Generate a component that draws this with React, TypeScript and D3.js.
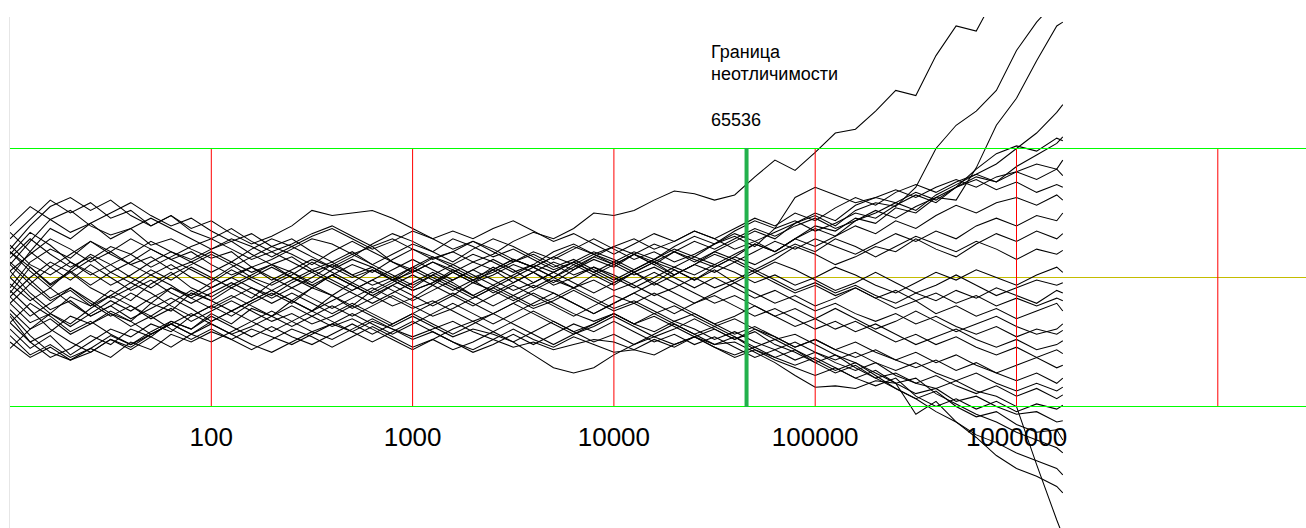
import React from 'react';
import * as d3 from 'd3';

const width = 1306;
const height = 528;

// where each walk is sampled, as powers of ten (n = 10^e)
const sampleExp = [
  1.0, 1.1, 1.2, 1.3, 1.4, 1.5, 1.6, 1.7, 1.8, 1.9,
  2.0, 2.1, 2.2, 2.3, 2.4, 2.5, 2.6, 2.7, 2.8, 2.9,
  3.0, 3.1, 3.2, 3.3, 3.4, 3.5, 3.6, 3.7, 3.8, 3.9,
  4.0, 4.1, 4.2, 4.3, 4.4, 4.5, 4.6, 4.7, 4.8, 4.9,
  5.0, 5.1, 5.2, 5.3, 5.4, 5.5, 5.6, 5.7, 5.8, 5.9,
  6.0, 6.1, 6.2, 6.23,
];

const tickValues = [100, 1000, 10000, 100000, 1000000];
const gridValues = [100, 1000, 10000, 100000, 1000000, 10000000];
const boundaryLines = ['Граница', 'неотличимости'];
const boundaryNumber = '65536';
const boundaryAt = 45600; // where the thick marker sits on the log axis

// normalised deviation of each run, +-100 = the green limits
const w01 = [10, 28, 45, 52, 40, 33, 38, 25, 30, 22, 15, 20, 8, 14, 22, 30, 26, 18, 24, 12, 6, 15, 20, 12, 18, 28, 35, 30, 38, 50, 48, 52, 60, 67, 65, 60, 64, 78, 91, 83, 97, 112, 115, 129, 145, 141, 172, 195, 191, 220, 235, 250, 262, 270];
const w02 = [-20, -35, -28, -15, -22, -10, -18, -5, 4, -8, -15, -6, 2, 10, 4, -4, 6, 14, 8, 0, -8, 2, 10, 18, 12, 4, 10, 20, 26, 18, 24, 30, 22, 28, 36, 30, 22, 28, 35, 42, 48, 40, 52, 58, 55, 70, 100, 118, 129, 145, 176, 198, 215, 225];
const w03 = [5, -12, -25, -18, -30, -22, -12, -20, -8, -14, -4, 6, -2, -10, -18, -8, 2, -6, -14, -22, -16, -6, 4, -4, 6, 14, 8, 16, 10, 2, 10, 18, 12, 20, 28, 22, 30, 38, 32, 40, 46, 38, 44, 52, 46, 55, 62, 60, 85, 118, 139, 168, 195, 198];
const w04 = [-8, 12, 22, 15, 28, 18, 10, 16, 6, 12, 20, 12, 4, 10, 0, -8, 2, 10, 4, 14, 22, 16, 8, 0, 6, -4, 4, 12, 6, 16, 24, 18, 10, 20, 14, 8, 16, 26, 20, 30, 38, 32, 44, 50, 58, 52, 64, 72, 80, 88, 100, 112, 128, 134];
const w05 = [15, 30, 18, 8, 16, 4, 12, 22, 14, 6, -2, 8, 16, 24, 18, 10, 20, 28, 20, 12, 4, 12, 6, -2, 4, 12, 20, 14, 22, 30, 22, 14, 20, 12, 18, 26, 32, 24, 38, 44, 36, 42, 50, 46, 56, 64, 58, 70, 78, 74, 86, 95, 104, 109];
const w06 = [-25, -40, -32, -44, -36, -28, -34, -20, -26, -12, -18, -8, -16, -4, 4, -6, -14, -4, 6, -2, 8, 16, 10, 2, -6, 2, 10, 4, 12, 20, 14, 6, 14, 22, 16, 26, 34, 28, 20, 30, 40, 36, 46, 42, 54, 50, 62, 70, 84, 96, 102, 98, 108, 106];
const w07 = [30, 45, 60, 50, 58, 46, 52, 40, 48, 36, 30, 38, 28, 20, 26, 34, 40, 32, 24, 30, 22, 14, 20, 28, 22, 14, 8, 16, 24, 18, 10, 18, 26, 20, 12, 20, 28, 36, 30, 42, 50, 44, 56, 62, 58, 66, 60, 70, 76, 68, 74, 66, 72, 70];
const w08 = [-12, 8, -6, 4, 14, 24, 18, 28, 20, 12, 4, 12, 22, 30, 24, 16, 8, 16, 26, 34, 28, 20, 12, 22, 30, 24, 16, 8, 14, 6, -2, 6, 14, 8, 16, 10, 18, 26, 20, 30, 24, 32, 40, 34, 44, 38, 48, 56, 50, 58, 62, 56, 64, 60];
const w09 = [20, 5, -8, 6, 18, 10, 0, -8, 2, 10, 18, 10, 0, -6, 2, 12, 4, -4, -12, -4, 6, -2, -10, -2, 8, 0, -8, 0, 10, 18, 12, 4, 12, 2, 10, 18, 12, 20, 28, 22, 30, 24, 18, 26, 34, 28, 36, 30, 40, 46, 40, 48, 44, 50];
const w10 = [-30, -50, -62, -55, -45, -52, -40, -46, -34, -40, -28, -36, -24, -30, -18, -26, -14, -22, -10, -2, -10, -4, 6, -2, -12, -4, 4, -4, 6, 14, 8, 18, 10, 2, 10, 20, 14, 6, 14, 24, 18, 10, 16, 24, 20, 30, 22, 16, 26, 34, 28, 36, 30, 34];
const w11 = [0, 20, 38, 30, 42, 50, 58, 48, 40, 46, 36, 28, 34, 24, 30, 20, 12, 20, 10, 18, 26, 20, 30, 24, 16, 22, 14, 6, 12, 4, 12, 20, 14, 24, 32, 26, 36, 44, 38, 62, 70, 64, 58, 62, 68, 62, 70, 76, 70, 78, 82, 88, 84, 91];
const w12 = [-40, -55, -45, -60, -50, -40, -46, -36, -42, -30, -22, -30, -20, -12, -20, -8, -14, -24, -16, -6, -14, -22, -14, -4, -10, -18, -10, -2, -8, 2, -6, 4, -4, 6, -2, 8, 16, 10, 18, 26, 20, 30, 24, 16, 24, 32, 26, 20, 28, 22, 14, 22, 18, 21];
const w13 = [25, 10, 2, 12, 4, -6, 2, 12, 20, 14, 22, 30, 24, 16, 24, 32, 38, 30, 22, 28, 36, 30, 22, 28, 20, 12, 18, 10, 2, 8, 0, -8, 0, 8, 2, 10, 4, -4, 2, -6, 0, 8, 2, -6, -12, -4, 4, -2, 6, 0, -6, 2, 8, 4];
const w14 = [-5, -18, -8, -20, -30, -22, -32, -24, -16, -24, -34, -26, -18, -10, -18, -26, -18, -10, -2, -10, -18, -10, -2, 6, -2, -10, -4, 4, -4, -12, -4, 4, 12, 6, -2, 6, -4, 4, 12, 6, -2, -10, -4, 4, -4, -12, -6, 2, -6, -14, -8, -2, -6, -4];
const w15 = [40, 55, 45, 35, 42, 30, 38, 46, 38, 30, 22, 28, 18, 10, 16, 6, 12, 2, 8, -2, 4, 12, 4, -4, 2, 10, 4, -6, 0, 8, 2, -6, -14, -8, 0, -8, -2, 6, -2, -10, -4, -12, -6, -14, -20, -12, -18, -10, -16, -8, -14, -20, -10, -12];
const w16 = [-15, 0, 12, 4, -8, -16, -8, 2, -6, -16, -24, -16, -8, -14, -4, 4, -4, -12, -20, -12, -4, 4, -4, -14, -22, -14, -6, -12, -20, -28, -20, -12, -20, -28, -20, -12, -4, -12, -20, -14, -22, -16, -8, -16, -24, -18, -28, -22, -30, -24, -32, -26, -20, -26];
const w17 = [10, -5, -18, -10, -22, -14, -4, -12, -22, -30, -22, -14, -22, -30, -38, -30, -22, -30, -22, -14, -22, -30, -24, -16, -8, -16, -24, -18, -10, -18, -26, -20, -12, -20, -28, -36, -30, -22, -30, -38, -32, -24, -32, -40, -34, -26, -34, -42, -36, -30, -38, -44, -40, -36];
const w18 = [35, 20, 8, 18, 28, 20, 30, 22, 14, 20, 10, 2, 8, -2, 6, 14, 8, 0, 6, -2, -10, -4, 4, 12, 6, 14, 8, 0, 8, 16, 10, 2, 8, 0, -8, 0, -8, -16, -10, -18, -26, -20, -28, -34, -28, -36, -30, -38, -44, -38, -46, -40, -44, -41];
const w19 = [-35, -20, -30, -42, -34, -44, -52, -44, -36, -44, -50, -42, -34, -26, -34, -42, -36, -28, -36, -44, -36, -28, -20, -28, -36, -28, -20, -12, -20, -28, -20, -12, -4, -12, -20, -14, -22, -30, -24, -32, -40, -34, -42, -36, -44, -52, -46, -40, -48, -54, -48, -56, -52, -49];
const w20 = [18, 35, 25, 12, 2, 10, 18, 8, 16, 24, 30, 22, 14, 20, 12, 4, 10, 2, -6, 0, 8, 0, -8, -16, -8, 0, 8, 0, -8, -2, -10, -4, 4, -4, -12, -20, -14, -22, -30, -24, -32, -40, -34, -42, -50, -44, -52, -46, -54, -60, -54, -62, -56, -59];
const w21 = [-45, -60, -52, -62, -55, -45, -52, -42, -34, -40, -30, -38, -46, -38, -46, -52, -44, -36, -44, -36, -28, -36, -44, -36, -28, -36, -44, -52, -44, -36, -28, -36, -30, -38, -46, -40, -48, -40, -46, -54, -48, -56, -50, -58, -64, -58, -66, -60, -68, -74, -68, -62, -70, -68];
const w22 = [0, -15, -28, -38, -28, -18, -26, -16, -8, -16, -8, 0, 8, 0, -8, 0, 10, 18, 10, 2, -6, 2, -6, -14, -6, -14, -22, -16, -8, -16, -24, -18, -26, -34, -28, -36, -44, -38, -46, -54, -48, -56, -62, -56, -64, -70, -64, -72, -66, -74, -80, -74, -82, -78];
const w23 = [-20, -5, 8, -2, 10, 0, -10, -2, -12, -20, -12, -4, -12, -20, -12, -20, -28, -20, -28, -36, -28, -20, -12, -20, -28, -20, -12, -20, -28, -34, -28, -36, -42, -34, -40, -48, -42, -50, -56, -50, -58, -64, -58, -66, -72, -66, -74, -80, -74, -82, -88, -82, -88, -85];
const w24 = [-10, -25, -40, -50, -58, -48, -56, -46, -54, -44, -36, -44, -52, -58, -50, -42, -48, -40, -32, -40, -48, -42, -50, -58, -52, -44, -52, -44, -36, -42, -34, -42, -50, -44, -52, -46, -54, -62, -56, -64, -58, -66, -72, -66, -76, -82, -76, -84, -90, -84, -92, -86, -94, -91];
const w25 = [-28, -45, -58, -64, -55, -62, -50, -56, -44, -50, -42, -48, -40, -46, -52, -44, -36, -42, -34, -40, -46, -40, -34, -42, -48, -54, -50, -56, -52, -48, -50, -56, -48, -54, -46, -54, -62, -56, -64, -70, -76, -70, -78, -84, -78, -92, -100, -94, -102, -96, -104, -98, -102, -99];
const w26 = [12, -2, -16, -8, -20, -30, -22, -32, -24, -34, -26, -18, -26, -34, -28, -36, -30, -22, -30, -38, -30, -38, -46, -40, -44, -50, -60, -70, -74, -70, -60, -52, -46, -52, -46, -54, -60, -54, -62, -68, -62, -70, -78, -72, -82, -90, -86, -96, -92, -100, -106, -104, -112, -111];
const w27 = [-15, -30, -20, -8, -18, -28, -38, -30, -40, -48, -40, -48, -56, -48, -40, -46, -54, -46, -38, -46, -54, -48, -56, -50, -42, -50, -42, -34, -42, -50, -44, -52, -44, -36, -44, -52, -46, -56, -62, -56, -66, -74, -68, -78, -86, -94, -88, -100, -108, -104, -114, -120, -118, -126];
const w28 = [20, 8, -5, 5, -6, 4, -4, 6, -2, 8, 0, -8, 0, 8, 0, -6, 2, -6, -14, -6, 2, -6, -14, -22, -14, -6, -14, -22, -30, -22, -14, -20, -28, -22, -30, -38, -32, -40, -48, -44, -52, -60, -66, -74, -82, -78, -90, -98, -106, -112, -120, -126, -132, -136];
const w29 = [-35, -50, -42, -30, -36, -26, -34, -44, -36, -28, -36, -44, -38, -30, -22, -30, -38, -32, -40, -48, -56, -48, -40, -34, -42, -34, -26, -34, -42, -36, -28, -36, -28, -36, -44, -38, -46, -54, -48, -56, -64, -72, -66, -76, -86, -94, -104, -112, -122, -128, -136, -142, -148, -153];
const w30 = [-50, -62, -54, -64, -58, -48, -54, -44, -36, -44, -34, -26, -34, -42, -34, -26, -34, -42, -50, -42, -34, -42, -50, -56, -48, -40, -48, -54, -46, -52, -58, -56, -60, -52, -46, -52, -50, -58, -66, -76, -85, -84, -86, -80, -82, -106, -96, -112, -124, -138, -148, -154, -162, -167];
const w31 = [5, 18, 30, 22, 12, 20, 10, 2, 10, 0, -8, 0, -8, -16, -8, -16, -24, -16, -8, -16, -24, -18, -26, -34, -28, -20, -28, -36, -44, -38, -30, -38, -46, -40, -32, -40, -48, -42, -52, -58, -66, -60, -70, -78, -74, -82, -86, -80, -88, -92, -100, -145, -188, -200];
const w32 = [-55, -40, -28, -36, -24, -14, -22, -30, -20, -10, -18, -26, -18, -10, -2, 6, -2, -10, -2, 6, 14, 6, -2, 6, 14, 6, -4, 4, 12, 4, -4, 4, -6, 2, 10, 4, 12, 4, -4, -12, -6, -14, -8, -16, -10, -18, -12, -20, -14, -22, -16, -22, -16, -18];
const w33 = [22, 40, 55, 62, 52, 60, 48, 40, 48, 38, 44, 34, 26, 32, 40, 52, 48, 50, 52, 46, 38, 30, 36, 30, 38, 44, 36, 28, 34, 26, 18, 26, 34, 28, 36, 30, 38, 46, 40, 50, 44, 54, 62, 56, 66, 72, 66, 74, 80, 74, 82, 76, 84, 79];

const walks = [
  w01, w02, w03, w04, w05, w06, w07, w08, w09, w10, w11,
  w12, w13, w14, w15, w16, w17, w18, w19, w20, w21, w22,
  w23, w24, w25, w26, w27, w28, w29, w30, w31, w32, w33,
];

export default function App() {
  const x = d3.scaleLog().domain([10, 1e7]).range([10, 1217.8]);
  const y = d3.scaleLinear().domain([-100, 100]).range([406.5, 148.5]);

  const line = d3.line<number>()
    .x((_, i) => x(Math.pow(10, sampleExp[i])))
    .y(d => y(d));

  const font = '"Liberation Sans", Arial, sans-serif';
  const bx = x(boundaryAt);

  return (
    <svg
      width={width}
      height={height}
      style={{ position: 'absolute', left: 0, top: 0, display: 'block', background: '#fff' }}
    >
      <defs>
        <clipPath id="plot">
          <rect x={10} y={17} width={width - 10} height={height - 17} />
        </clipPath>
      </defs>

      {/* left frame edge */}
      <line x1={9.5} x2={9.5} y1={17} y2={height} stroke="#e6e6e6" />

      {/* zero line */}
      <line x1={10} x2={width} y1={y(0)} y2={y(0)} stroke="#c4bc00" />

      {/* the runs */}
      <g clipPath="url(#plot)" fill="none" stroke="#000" strokeWidth={1.05} strokeLinejoin="miter">
        {walks.map((w, i) => (
          <path key={i} d={line(w) || ''} />
        ))}
      </g>

      {/* decade grid */}
      {gridValues.map(v => (
        <line key={v} x1={x(v)} x2={x(v)} y1={y(100)} y2={y(-100)} stroke="#ff0000" strokeWidth={1} />
      ))}

      {/* limits */}
      <line x1={10} x2={width} y1={y(100)} y2={y(100)} stroke="#00ff00" />
      <line x1={10} x2={width} y1={y(-100)} y2={y(-100)} stroke="#00ff00" />

      {/* indistinguishability boundary */}
      <line x1={bx} x2={bx} y1={y(100) - 0.5} y2={y(-100) + 0.5} stroke="#22b14c" strokeWidth={4} />
      <g fontFamily={font} fontSize={18} fill="#000">
        {boundaryLines.map((t, i) => (
          <text key={t} x={711} y={58 + i * 22}>{t}</text>
        ))}
        <text x={711} y={126}>{boundaryNumber}</text>
      </g>

      {/* axis labels */}
      <g fontFamily={font} fontSize={26} fill="#000" textAnchor="middle">
        {tickValues.map(v => (
          <text key={v} x={x(v)} y={446}>{v}</text>
        ))}
      </g>
    </svg>
  );
}
